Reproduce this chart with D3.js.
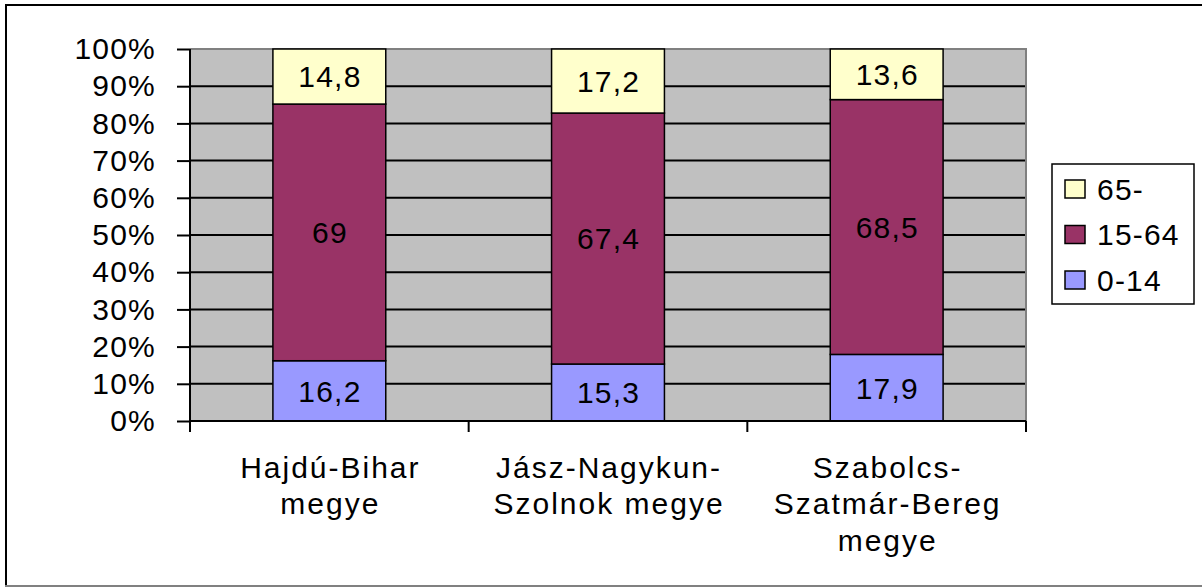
<!DOCTYPE html>
<html>
<head>
<meta charset="utf-8">
<script src="https://cdnjs.cloudflare.com/ajax/libs/d3/7.8.5/d3.min.js"></script>
<style>
  body { margin: 0; background: #fff; }
  text { font-family: "Liberation Sans", Arial, sans-serif; font-size: 30px; letter-spacing: 1.2px; fill: #000; }
  text.cat { letter-spacing: 2px; }
</style>
</head>
<body>
<script>
var categories = [["Hajdú-Bihar", "megye"], ["Jász-Nagykun-", "Szolnok megye"], ["Szabolcs-", "Szatmár-Bereg", "megye"]];
var seriesNames = ["0-14", "15-64", "65-"];
var young = [16.2, 15.3, 17.9];
var working = [69, 67.4, 68.5];
var old = [14.8, 17.2, 13.6];
var tickValues = [0, 0.1, 0.2, 0.3, 0.4, 0.5, 0.6, 0.7, 0.8, 0.9, 1];
var colors = ["#9999FF", "#993366", "#FFFFCC"];

var W = 1202, H = 587;
var plot = { left: 190, right: 1026, top: 49, bottom: 421 };

var svg = d3.select("body").append("svg")
    .attr("width", W)
    .attr("height", H);

// outer frame
svg.append("line").attr("x1", 6).attr("y1", 5).attr("x2", 6).attr("y2", 586).attr("stroke", "#000").attr("stroke-width", 2);
svg.append("line").attr("x1", 5).attr("y1", 5).attr("x2", W).attr("y2", 5).attr("stroke", "#000").attr("stroke-width", 2);
svg.append("line").attr("x1", 5).attr("y1", 586).attr("x2", W).attr("y2", 586).attr("stroke", "#808080").attr("stroke-width", 2);

var rows = categories.map(function (c, i) {
    return { key: i, "0-14": young[i], "15-64": working[i], "65-": old[i] };
});

var x = d3.scaleBand()
    .domain(d3.range(categories.length))
    .range([plot.left, plot.right])
    .paddingInner(0.595)
    .paddingOuter(0.2975);

var y = d3.scaleLinear().domain([0, 1]).range([plot.bottom, plot.top]);

var stack = d3.stack().keys(seriesNames).offset(d3.stackOffsetExpand);
var stacked = stack(rows);

// plot background
svg.append("rect")
    .attr("x", plot.left).attr("y", plot.top)
    .attr("width", plot.right - plot.left).attr("height", plot.bottom - plot.top)
    .attr("fill", "#C0C0C0");

// gridlines
svg.append("g").selectAll("line")
    .data(tickValues.slice(1, -1))
    .enter().append("line")
    .attr("x1", plot.left).attr("x2", plot.right)
    .attr("y1", function (d) { return y(d); })
    .attr("y2", function (d) { return y(d); })
    .attr("stroke", "#000").attr("stroke-width", 2);

// plot border top/right
svg.append("path")
    .attr("d", "M" + plot.left + "," + plot.top + "H" + plot.right + "V" + plot.bottom)
    .attr("fill", "none").attr("stroke", "#808080").attr("stroke-width", 2);

// bars
var layer = svg.append("g").selectAll("g")
    .data(stacked)
    .enter().append("g")
    .attr("fill", function (d, i) { return colors[i]; });

layer.selectAll("rect")
    .data(function (d) { return d; })
    .enter().append("rect")
    .attr("x", function (d) { return x(d.data.key); })
    .attr("y", function (d) { return y(d[1]); })
    .attr("width", x.bandwidth())
    .attr("height", function (d) { return y(d[0]) - y(d[1]); })
    .attr("stroke", "#000").attr("stroke-width", 1.5);

// value labels
stacked.forEach(function (s) {
    svg.append("g").selectAll("text")
        .data(s)
        .enter().append("text")
        .attr("x", function (d) { return x(d.data.key) + x.bandwidth() / 2 + 0.6; })
        .attr("y", function (d) { return (y(d[0]) + y(d[1])) / 2; })
        .attr("dy", "0.36em")
        .attr("text-anchor", "middle")
        .text(function (d) { return String(d.data[s.key]).replace(".", ","); });
});

// y axis
var yAxis = d3.axisLeft(y).tickValues(tickValues).tickSize(13).tickFormat(d3.format(".0%"));
var yg = svg.append("g")
    .attr("transform", "translate(" + plot.left + ",0)")
    .call(yAxis);
yg.select(".domain").remove();
yg.selectAll(".tick line").attr("stroke", "#000").attr("stroke-width", 2);
yg.selectAll(".tick text")
    .attr("x", -34)
    .attr("font-size", null).attr("font-family", null);

svg.append("line")
    .attr("x1", plot.left).attr("x2", plot.left)
    .attr("y1", plot.top).attr("y2", plot.bottom + 11)
    .attr("stroke", "#000").attr("stroke-width", 2);

// x axis
svg.append("line")
    .attr("x1", plot.left).attr("x2", plot.right)
    .attr("y1", plot.bottom).attr("y2", plot.bottom)
    .attr("stroke", "#000").attr("stroke-width", 2);

svg.append("g").selectAll("line")
    .data(d3.range(categories.length + 1))
    .enter().append("line")
    .attr("x1", function (d) { return plot.left + d * x.step(); })
    .attr("x2", function (d) { return plot.left + d * x.step(); })
    .attr("y1", plot.bottom).attr("y2", plot.bottom + 11)
    .attr("stroke", "#000").attr("stroke-width", 2);

var catLabels = svg.append("g").selectAll("text")
    .data(categories)
    .enter().append("text")
    .attr("class", "cat")
    .attr("text-anchor", "middle")
    .attr("transform", function (d, i) { return "translate(" + (x(i) + x.bandwidth() / 2 + 1) + ",467)"; });

catLabels.selectAll("tspan")
    .data(function (d) { return d; })
    .enter().append("tspan")
    .attr("x", 0)
    .attr("y", function (d, i) { return i * 36.5; })
    .attr("dy", "0.36em")
    .text(function (d) { return d; });

// legend
var legend = svg.append("g");
legend.append("rect")
    .attr("x", 1052).attr("y", 164).attr("width", 142).attr("height", 140)
    .attr("fill", "#fff").attr("stroke", "#000").attr("stroke-width", 1.5);

var legendItems = seriesNames.slice().reverse();
var ly = d3.scalePoint().domain(legendItems).range([189, 280]);

var item = legend.selectAll("g.item")
    .data(legendItems)
    .enter().append("g")
    .attr("class", "item")
    .attr("transform", function (d) { return "translate(0," + ly(d) + ")"; });

item.append("rect")
    .attr("x", 1065).attr("y", -9).attr("width", 20).attr("height", 18)
    .attr("fill", function (d) { return colors[seriesNames.indexOf(d)]; })
    .attr("stroke", "#000").attr("stroke-width", 1.5);

item.append("text")
    .attr("x", 1097).attr("dy", "0.36em")
    .text(function (d) { return d; });
</script>
</body>
</html>
